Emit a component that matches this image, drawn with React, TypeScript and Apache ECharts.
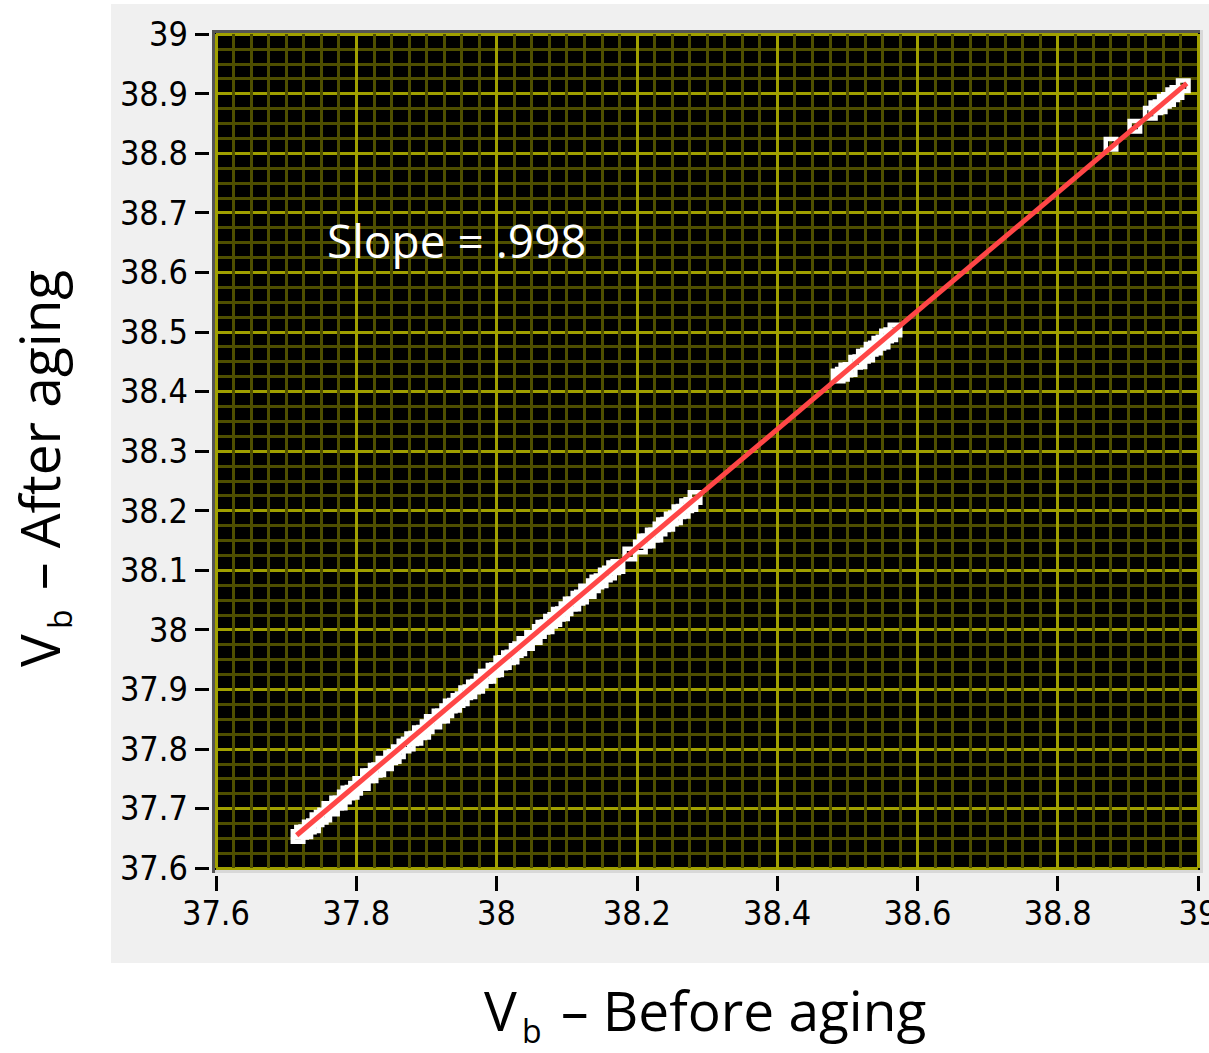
import React, { useEffect, useRef } from "react";
import * as echarts from "echarts";

// Vb before aging (x) and after aging (y) for each measured device
const beforeAging: number[] = [
  37.717, 37.722, 37.728, 37.733, 37.739, 37.744, 37.75, 37.755, 37.761, 37.766,
  37.772, 37.777, 37.783, 37.788, 37.794, 37.799, 37.805, 37.81, 37.816, 37.821,
  37.827, 37.832, 37.838, 37.843, 37.849, 37.854, 37.86, 37.868, 37.874, 37.879,
  37.885, 37.89, 37.896, 37.901, 37.907, 37.912, 37.918, 37.923, 37.929, 37.934,
  37.94, 37.945, 37.951, 37.956, 37.962, 37.967, 37.973, 37.978, 37.984, 37.989,
  37.995, 38.0, 38.006, 38.011, 38.017, 38.022, 38.028, 38.033, 38.039, 38.044,
  38.05, 38.055, 38.061, 38.066, 38.072, 38.077, 38.083, 38.088, 38.094, 38.099,
  38.105, 38.11, 38.116, 38.121, 38.127, 38.132, 38.138, 38.143, 38.149, 38.155,
  38.161, 38.167, 38.173, 38.19, 38.205, 38.211, 38.216, 38.222, 38.227, 38.233,
  38.238, 38.244, 38.249, 38.255, 38.26, 38.266, 38.271, 38.277, 38.283,
  38.487, 38.493, 38.498, 38.504, 38.512, 38.518, 38.523, 38.529, 38.534, 38.54,
  38.545, 38.551, 38.556, 38.562, 38.568,
  38.876, 38.91, 38.932, 38.94, 38.946, 38.952, 38.958, 38.964, 38.97, 38.979,
];
const afterAging: number[] = [
  37.653, 37.66, 37.661, 37.669, 37.671, 37.681, 37.685, 37.689, 37.7, 37.699,
  37.709, 37.709, 37.719, 37.726, 37.727, 37.734, 37.742, 37.742, 37.755, 37.755,
  37.764, 37.765, 37.776, 37.775, 37.785, 37.787, 37.795, 37.805, 37.808, 37.817,
  37.818, 37.827, 37.828, 37.837, 37.846, 37.845, 37.855, 37.855, 37.864, 37.872,
  37.873, 37.881, 37.884, 37.894, 37.896, 37.904, 37.905, 37.914, 37.922, 37.922,
  37.932, 37.933, 37.944, 37.945, 37.953, 37.954, 37.965, 37.968, 37.977, 37.977,
  37.987, 37.987, 37.997, 38.004, 38.005, 38.014, 38.017, 38.026, 38.027, 38.035,
  38.043, 38.043, 38.053, 38.055, 38.065, 38.064, 38.074, 38.08, 38.082, 38.092,
  38.095, 38.104, 38.106, 38.127, 38.139, 38.149, 38.149, 38.159, 38.159, 38.169,
  38.176, 38.177, 38.186, 38.188, 38.198, 38.199, 38.208, 38.21, 38.222,
  38.426, 38.429, 38.436, 38.437, 38.449, 38.45, 38.459, 38.461, 38.471, 38.473,
  38.481, 38.483, 38.493, 38.495, 38.503,
  38.815, 38.845, 38.867, 38.876, 38.878, 38.887, 38.89, 38.898, 38.902, 38.913,
];

// linear fit line end points
const fitX: number[] = [37.715, 38.984];
const fitY: number[] = [37.655, 38.917];

const slopeLabel = "Slope = .998";
const xTitleRest = "– Before aging";
const yTitleRest = "– After aging";

const TITLE_FONT = "'Open Sans', 'Noto Sans', sans-serif";
const TICK_FONT = "'Liberation Sans Narrow', 'DejaVu Sans Condensed', 'Liberation Sans', sans-serif";

function titleChildren(rest: string) {
  const F = 55;
  const S = 32;
  const base = { fill: "#000", verticalAlign: "middle", align: "left" };
  return [
    { type: "text", x: 0, y: -0.36 * F, style: { ...base, text: "V", font: `${F}px ${TITLE_FONT}` } },
    { type: "text", x: 38, y: 13 - 0.36 * S, style: { ...base, text: "b", font: `${S}px ${TITLE_FONT}` } },
    { type: "text", x: 77, y: -0.36 * F, style: { ...base, text: rest, font: `${F}px ${TITLE_FONT}` } },
  ];
}

export default function App() {
  const ref = useRef<HTMLDivElement>(null);
  useEffect(() => {
    document.body.style.margin = "0";
    const chart = echarts.init(ref.current!, null, { renderer: "svg" });
    const points = beforeAging.map((x, i) => [x, afterAging[i]]);
    const fit = fitX.map((x, i) => [x, fitY[i]]);
    const option: any = {
      animation: false,
      backgroundColor: "#ffffff",
      grid: { left: 216, top: 34, width: 982, height: 834, show: false, containLabel: false, outerBoundsMode: "none" },
      xAxis: {
        type: "value",
        min: 37.6,
        max: 39,
        interval: 0.2,
        offset: 8,
        axisLine: { show: false },
        axisTick: { show: true, length: 15, lineStyle: { color: "#000", width: 3 } },
        axisLabel: { color: "#000", fontSize: 34, fontFamily: TICK_FONT, margin: 20, hideOverlap: false },
        splitLine: { show: true, lineStyle: { color: "#a0a000", width: 3 } },
        minorTick: { show: false, splitNumber: 8 },
        minorSplitLine: { show: true, lineStyle: { color: "#4f4f00", width: 3 } },
      },
      yAxis: {
        type: "value",
        min: 37.6,
        max: 39,
        interval: 0.1,
        offset: 7,
        axisLine: { show: false },
        axisTick: { show: true, length: 14, lineStyle: { color: "#000", width: 3 } },
        axisLabel: { color: "#000", fontSize: 34, fontFamily: TICK_FONT, margin: 21 },
        splitLine: { show: true, lineStyle: { color: "#a0a000", width: 3 } },
        minorTick: { show: false, splitNumber: 4 },
        minorSplitLine: { show: true, lineStyle: { color: "#4f4f00", width: 3 } },
      },
      graphic: [
        { type: "rect", z: -100, shape: { x: 111, y: 4, width: 1098, height: 959 }, style: { fill: "#f0f0f0" } },
        { type: "rect", z: -90, shape: { x: 215, y: 33, width: 985, height: 837 }, style: { fill: "#000" } },
        { type: "rect", z: 100, shape: { x: 212, y: 30, width: 991, height: 3 }, style: { fill: "#555555" } },
        { type: "rect", z: 100, shape: { x: 212, y: 30, width: 3, height: 843 }, style: { fill: "#555555" } },
        { type: "rect", z: 100, shape: { x: 215, y: 870, width: 988, height: 3 }, style: { fill: "#d8d8d8" } },
        { type: "rect", z: 100, shape: { x: 1200, y: 30, width: 3, height: 843 }, style: { fill: "#d8d8d8" } },
        {
          type: "text", z: 100, x: 327, y: 257 - 0.36 * 46,
          style: { text: slopeLabel, fill: "#ffffff", font: `46px ${TITLE_FONT}`, verticalAlign: "middle", align: "left" },
        },
        { type: "group", z: 100, x: 484, y: 1029, children: titleChildren(xTitleRest) },
        { type: "group", z: 100, x: 58, y: 667, rotation: Math.PI / 2, children: titleChildren(yTitleRest) },
      ],
      series: [
        {
          type: "scatter",
          data: points,
          symbol: "rect",
          symbolSize: 10.5,
          z: 3,
          itemStyle: { color: "rgba(0,0,0,0)", borderColor: "#ffffff", borderWidth: 4.5, opacity: 1 },
          emphasis: { disabled: true },
        },
        {
          type: "line",
          data: fit,
          showSymbol: false,
          symbol: "none",
          z: 4,
          lineStyle: { color: "#ff4646", width: 5 },
          emphasis: { disabled: true },
        },
      ],
    };
    chart.setOption(option);
    return () => chart.dispose();
  }, []);
  return <div ref={ref} style={{ width: 1209, height: 1053 }} />;
}
